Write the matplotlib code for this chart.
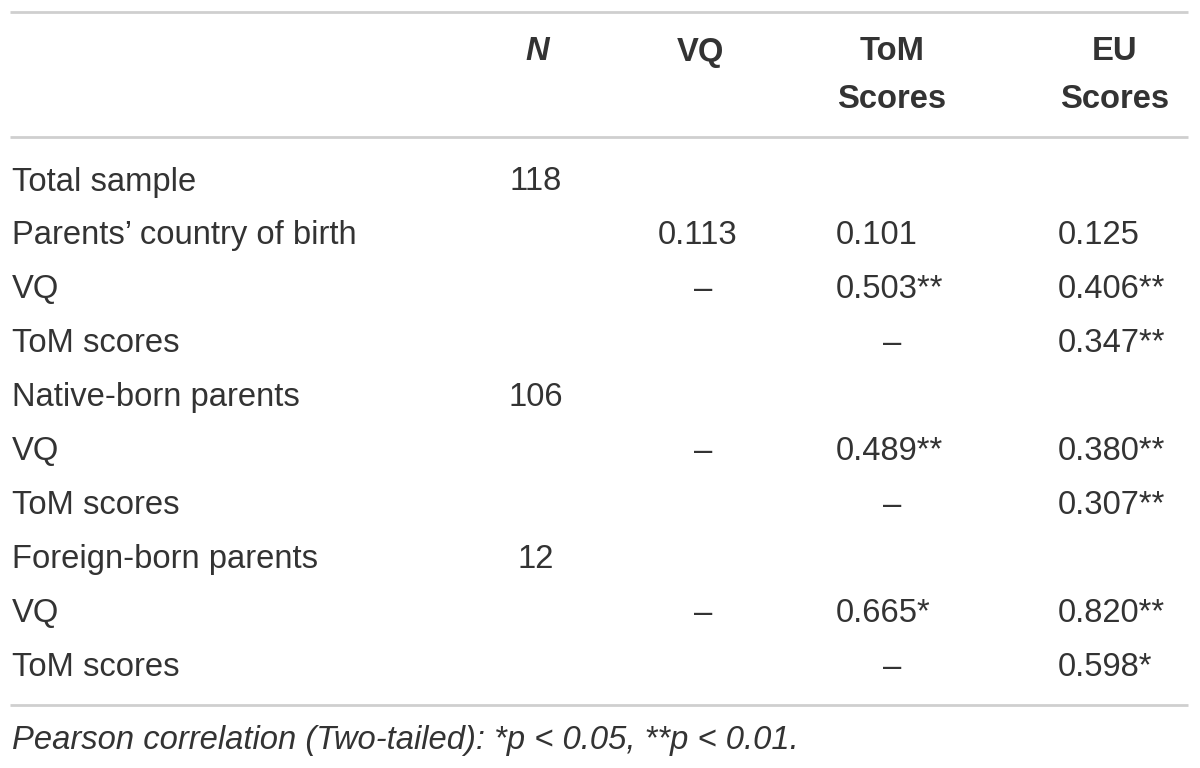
import matplotlib.pyplot as plt

plt.rcParams['font.family'] = ['Liberation Sans', 'DejaVu Sans']

# table content
row_labels = ["Total sample", "Parents\u2019 country of birth", "VQ", "ToM scores",
              "Native-born parents", "VQ", "ToM scores",
              "Foreign-born parents", "VQ", "ToM scores"]
n_vals = ["118", "", "", "", "106", "", "", "12", "", ""]
vq_vals = ["", "0.113", "\u2013", "", "", "\u2013", "", "", "\u2013", ""]
tom_vals = ["", "0.101", "0.503**", "\u2013", "", "0.489**", "\u2013", "", "0.665*", "\u2013"]
eu_vals = ["", "0.125", "0.406**", "0.347**", "", "0.380**", "0.307**", "", "0.820**", "0.598*"]
footnote = "Pearson correlation (Two-tailed): *p < 0.05, **p < 0.01."

fig = plt.figure(figsize=(12, 7.68), dpi=100)
ax = fig.add_axes([0, 0, 1, 1])
ax.set_xlim(0, 1200)
ax.set_ylim(768, 0)
ax.axis("off")

txt = "#333333"
fs = 23.6
line_c = "#cfcfcf"

for y in (12, 137, 705):
    ax.plot([10, 1188], [y, y], color=line_c, lw=2, solid_capstyle="butt")

# header
ax.text(537, 52, "N", fontsize=fs, fontweight="bold", fontstyle="italic", color=txt, ha="center", va="center")
ax.text(700, 52, "VQ", fontsize=fs, fontweight="bold", color=txt, ha="center", va="center")
for x, top, bottom in ((892, "ToM", "Scores"), (1115, "EU", "Scores")):
    ax.text(x, 52, top, fontsize=fs, fontweight="bold", color=txt, ha="center", va="center")
    ax.text(x, 99, bottom, fontsize=fs, fontweight="bold", color=txt, ha="center", va="center")

def cell(x_num, x_dash, y, s):
    if not s:
        return
    if s == "\u2013":
        ax.text(x_dash, y, s, fontsize=fs, color=txt, ha="center", va="center")
    else:
        ax.text(x_num, y, s, fontsize=fs, color=txt, ha="left", va="center")

y0, dy = 182, 53.9
for i, lab in enumerate(row_labels):
    y = y0 + i * dy
    ax.text(12, y, lab, fontsize=fs, color=txt, ha="left", va="center")
    if n_vals[i]:
        ax.text(536, y, n_vals[i], fontsize=fs, color=txt, ha="center", va="center")
    if vq_vals[i] == "\u2013":
        ax.text(703, y, vq_vals[i], fontsize=fs, color=txt, ha="center", va="center")
    elif vq_vals[i]:
        ax.text(698, y, vq_vals[i], fontsize=fs, color=txt, ha="center", va="center")
    cell(836, 892, y, tom_vals[i])
    cell(1058, 1115, y, eu_vals[i])

ax.text(12, 741, footnote, fontsize=fs, fontstyle="italic", color=txt, ha="left", va="center")

fig.savefig("out.png", dpi=100)
